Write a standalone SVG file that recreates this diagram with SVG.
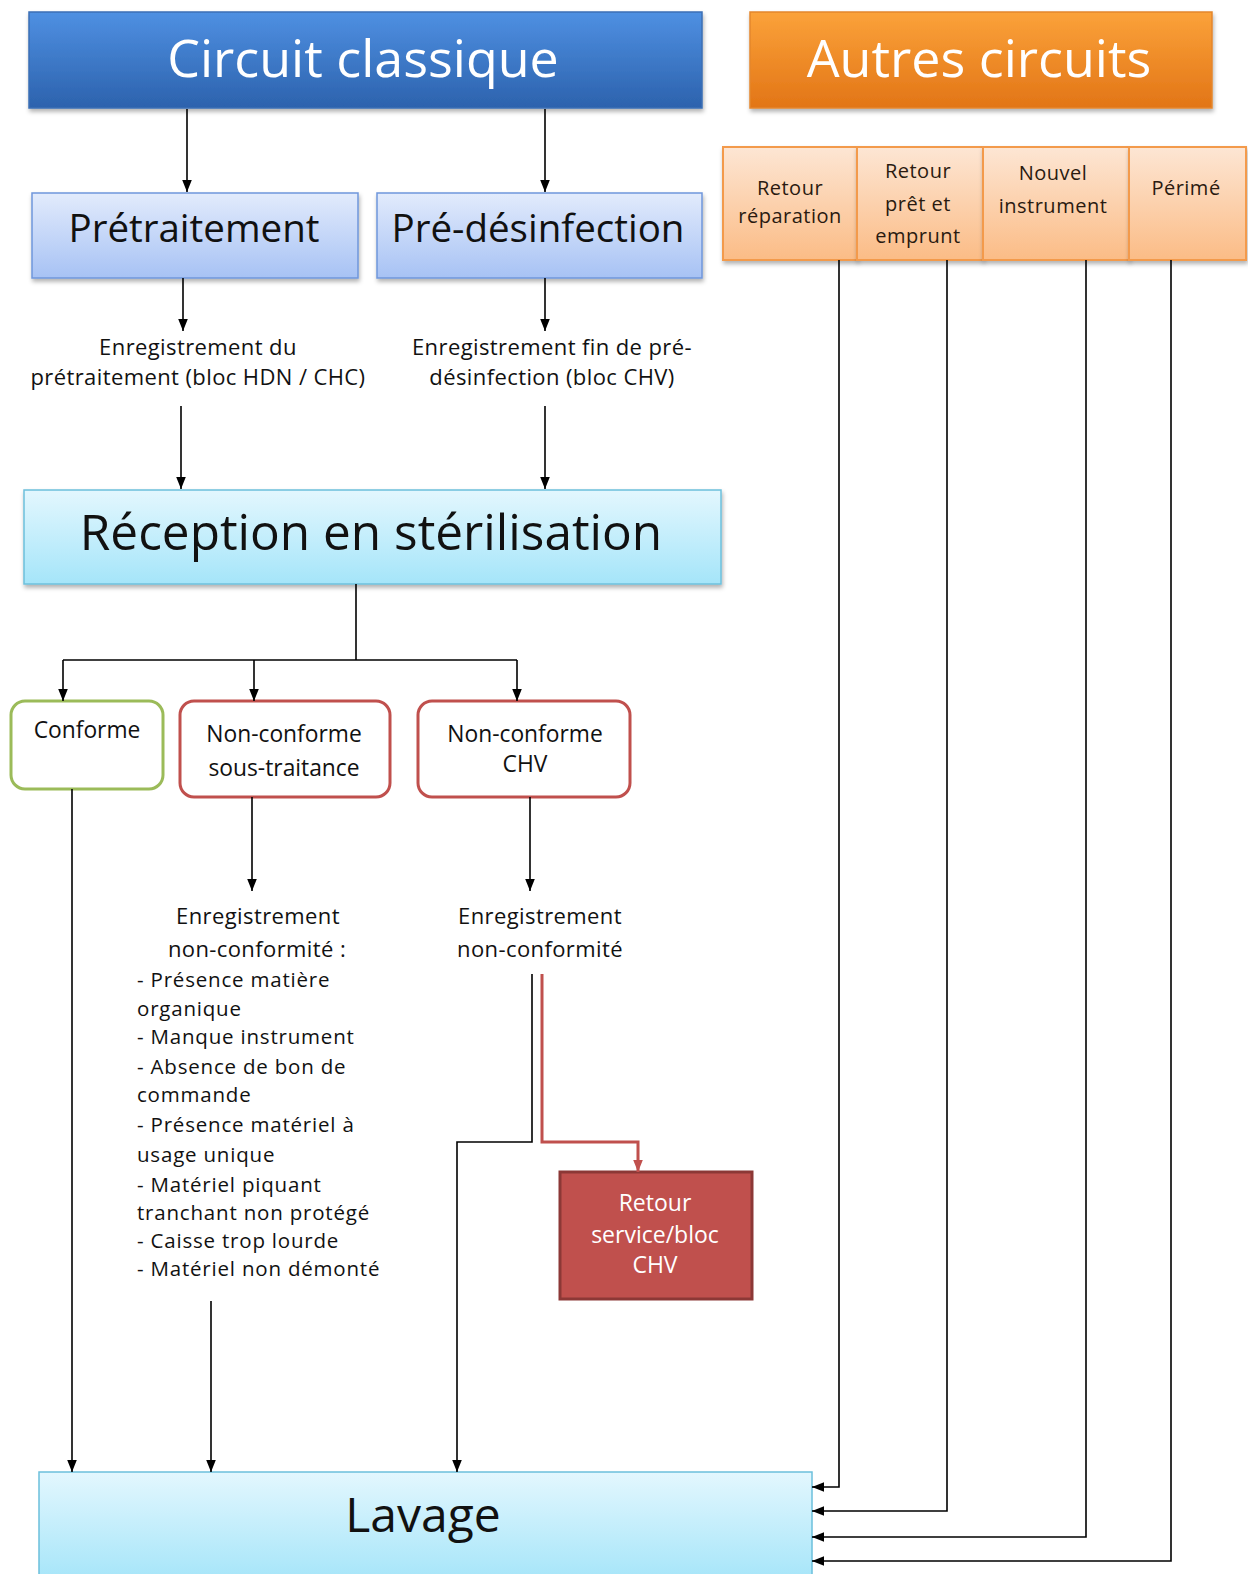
<svg xmlns="http://www.w3.org/2000/svg" width="1248" height="1574" viewBox="0 0 1248 1574">
<defs>
<linearGradient id="gBlue" x1="0" y1="0" x2="0" y2="1"><stop offset="0" stop-color="#4f90e2"/><stop offset="1" stop-color="#2c62ad"/></linearGradient>
<linearGradient id="gOrange" x1="0" y1="0" x2="0" y2="1"><stop offset="0" stop-color="#fba23a"/><stop offset="1" stop-color="#e27516"/></linearGradient>
<linearGradient id="gLightBlue" x1="0" y1="0" x2="0" y2="1"><stop offset="0" stop-color="#e2ebfc"/><stop offset="1" stop-color="#a7c2f4"/></linearGradient>
<linearGradient id="gCyan" x1="0" y1="0" x2="0" y2="1"><stop offset="0" stop-color="#e3f7fe"/><stop offset="1" stop-color="#a5e5f9"/></linearGradient>
<linearGradient id="gPeach" x1="0" y1="0" x2="0" y2="1"><stop offset="0" stop-color="#fde6d4"/><stop offset="1" stop-color="#fbbc86"/></linearGradient>
<filter id="sh" x="-5%" y="-10%" width="110%" height="130%"><feDropShadow dx="1" dy="3" stdDeviation="2" flood-color="#000" flood-opacity="0.3"/></filter>
<marker id="ahk" viewBox="0 0 10 10" refX="10" refY="5" markerWidth="12" markerHeight="12" orient="auto" markerUnits="userSpaceOnUse"><path d="M0,1 L10,5 L0,9 z" fill="#000"/></marker>
<marker id="ahr" viewBox="0 0 10 10" refX="10" refY="5" markerWidth="12" markerHeight="12" orient="auto" markerUnits="userSpaceOnUse"><path d="M0,1 L10,5 L0,9 z" fill="#c0504d"/></marker>
<style>
text{font-family:"Open Sans","Noto Sans","Liberation Sans",sans-serif;text-anchor:middle;fill:#111;}
.hd{font-size:52px;fill:#fff;}
.sub{font-size:38.5px;}
.big{font-size:49.5px;}
.lav{font-size:48px;}
.lbl{font-size:22px;letter-spacing:0.4px;}
.sm{font-size:20px;letter-spacing:0.5px;fill:#2a1a10;}
.nc{font-size:22.8px;}
.lst{font-size:20.5px;letter-spacing:0.8px;text-anchor:start;}
.wt{font-size:23px;fill:#fff;}
.c{fill:none;stroke:#000;stroke-width:1.6;}
.r{fill:none;stroke:#c0504d;stroke-width:3;}
</style>
</defs>

<g id="circuit-classique"><rect x="29" y="12" width="673" height="96" fill="url(#gBlue)" stroke="#3b6fb5" stroke-width="1.5" filter="url(#sh)"/><text class="hd" x="363" y="77">Circuit classique</text></g>
<g id="autres-circuits"><rect x="750" y="12" width="462" height="96" fill="url(#gOrange)" stroke="#e4862c" stroke-width="1.5" filter="url(#sh)"/><text class="hd" x="979" y="77">Autres circuits</text></g>

<g id="pretraitement"><rect x="32" y="193" width="326" height="85" fill="url(#gLightBlue)" stroke="#6f96db" stroke-width="1.5" filter="url(#sh)"/><text class="sub" x="194" y="242">Prétraitement</text></g>
<g id="pre-desinfection"><rect x="377" y="193" width="325" height="85" fill="url(#gLightBlue)" stroke="#6f96db" stroke-width="1.5" filter="url(#sh)"/><text class="sub" x="538" y="242">Pré-désinfection</text></g>

<g id="retour-reparation"><rect x="723" y="147" width="134" height="113" fill="url(#gPeach)" stroke="#f39a4c" stroke-width="2" filter="url(#sh)"/><text class="sm" x="790" y="195">Retour</text><text class="sm" x="790" y="223">réparation</text></g>
<g id="retour-pret"><rect x="857" y="147" width="126" height="113" fill="url(#gPeach)" stroke="#f39a4c" stroke-width="2" filter="url(#sh)"/><text class="sm" x="918" y="178">Retour</text><text class="sm" x="918" y="211">prêt et</text><text class="sm" x="918" y="243">emprunt</text></g>
<g id="nouvel-instrument"><rect x="983" y="147" width="146" height="113" fill="url(#gPeach)" stroke="#f39a4c" stroke-width="2" filter="url(#sh)"/><text class="sm" x="1053" y="180">Nouvel</text><text class="sm" x="1053" y="213">instrument</text></g>
<g id="perime"><rect x="1129" y="147" width="117" height="113" fill="url(#gPeach)" stroke="#f39a4c" stroke-width="2" filter="url(#sh)"/><text class="sm" x="1186" y="195">Périmé</text></g>

<g id="enreg-pretraitement"><text class="lbl" x="198" y="355">Enregistrement du</text><text class="lbl" x="198" y="385">prétraitement (bloc HDN / CHC)</text></g>
<g id="enreg-predesinfection"><text class="lbl" x="552" y="355">Enregistrement fin de pré-</text><text class="lbl" x="552" y="385">désinfection (bloc CHV)</text></g>

<g id="reception"><rect x="24" y="490" width="697" height="94" fill="url(#gCyan)" stroke="#6cc0dc" stroke-width="1.5" filter="url(#sh)"/><text class="big" x="371" y="550">Réception en stérilisation</text></g>

<g id="conforme"><rect x="11" y="701" width="152" height="88" rx="14" fill="#fff" stroke="#9bbb59" stroke-width="3"/><text class="nc" x="87" y="738">Conforme</text></g>
<g id="nc-sous-traitance"><rect x="180" y="701" width="210" height="96" rx="14" fill="#fff" stroke="#c0504d" stroke-width="3"/><text class="nc" x="284" y="742">Non-conforme</text><text class="nc" x="284" y="776">sous-traitance</text></g>
<g id="nc-chv"><rect x="418" y="701" width="212" height="96" rx="14" fill="#fff" stroke="#c0504d" stroke-width="3"/><text class="nc" x="525" y="742">Non-conforme</text><text class="nc" x="525" y="772">CHV</text></g>

<g id="enreg-nc-sous-traitance"><text class="lbl" x="258" y="924">Enregistrement</text><text class="lbl" x="257" y="957">non-conformité :</text>
<text class="lst" x="137" y="987">- Présence matière</text>
<text class="lst" x="137" y="1016">organique</text>
<text class="lst" x="137" y="1044">- Manque instrument</text>
<text class="lst" x="137" y="1074">- Absence de bon de</text>
<text class="lst" x="137" y="1102">commande</text>
<text class="lst" x="137" y="1132">- Présence matériel à</text>
<text class="lst" x="137" y="1162">usage unique</text>
<text class="lst" x="137" y="1192">- Matériel piquant</text>
<text class="lst" x="137" y="1220">tranchant non protégé</text>
<text class="lst" x="137" y="1248">- Caisse trop lourde</text>
<text class="lst" x="137" y="1276">- Matériel non démonté</text></g>
<g id="enreg-nc-chv"><text class="lbl" x="540" y="924">Enregistrement</text><text class="lbl" x="540" y="957">non-conformité</text></g>

<g id="retour-service"><rect x="560" y="1172" width="192" height="127" fill="#c0504d" stroke="#8c3836" stroke-width="3"/><text class="wt" x="655" y="1211">Retour</text><text class="wt" x="655" y="1243">service/bloc</text><text class="wt" x="655" y="1273">CHV</text></g>

<g id="lavage"><rect x="39" y="1472" width="773" height="110" fill="url(#gCyan)" stroke="#6cc0dc" stroke-width="1.5"/><text class="lav" x="423" y="1532">Lavage</text></g>

<g id="connectors">
<path class="c" d="M187,109 V192" marker-end="url(#ahk)"/>
<path class="c" d="M545,109 V192" marker-end="url(#ahk)"/>
<path class="c" d="M183,278 V331" marker-end="url(#ahk)"/>
<path class="c" d="M545,278 V331" marker-end="url(#ahk)"/>
<path class="c" d="M181,406 V489" marker-end="url(#ahk)"/>
<path class="c" d="M545,406 V489" marker-end="url(#ahk)"/>
<path class="c" d="M356,584 V660"/>
<path class="c" d="M63,660 H517"/>
<path class="c" d="M63,660 V701" marker-end="url(#ahk)"/>
<path class="c" d="M254,660 V701" marker-end="url(#ahk)"/>
<path class="c" d="M517,660 V701" marker-end="url(#ahk)"/>
<path class="c" d="M252,797 V891" marker-end="url(#ahk)"/>
<path class="c" d="M530,797 V891" marker-end="url(#ahk)"/>
<path class="c" d="M72,789 V1472" marker-end="url(#ahk)"/>
<path class="c" d="M211,1301 V1472" marker-end="url(#ahk)"/>
<path class="c" d="M532,974 V1142 H457 V1472" marker-end="url(#ahk)"/>
<path class="r" d="M542,974 V1142 H638 V1172" marker-end="url(#ahr)"/>
<path class="c" d="M839,260 V1487 H812" marker-end="url(#ahk)"/>
<path class="c" d="M947,260 V1511 H812" marker-end="url(#ahk)"/>
<path class="c" d="M1086,260 V1537 H812" marker-end="url(#ahk)"/>
<path class="c" d="M1171,260 V1561 H812" marker-end="url(#ahk)"/>
</g>
</svg>
